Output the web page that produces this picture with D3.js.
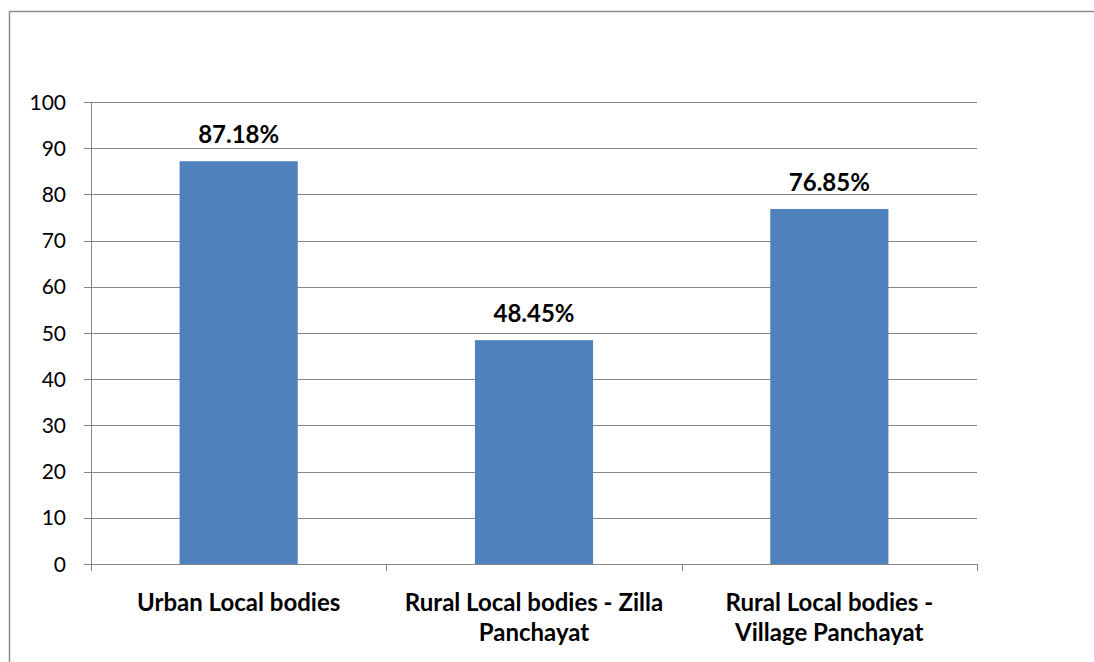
<!DOCTYPE html>
<html>
<head>
<meta charset="utf-8">
<script src="https://cdn.jsdelivr.net/npm/d3@7"></script>
<style>
  body { margin: 0; background: #fff; }
  svg { display: block; }
</style>
</head>
<body>
<svg id="chart" width="1094" height="662"></svg>
<script>
"use strict";

// Data
var categories = [
    ["Urban Local bodies"],
    ["Rural Local bodies - Zilla", "Panchayat"],
    ["Rural Local bodies -", "Village Panchayat"]
];
var values = [87.18, 48.45, 76.85];
var valueLabels = ["87.18%", "48.45%", "76.85%"];
var yTicks = [0, 10, 20, 30, 40, 50, 60, 70, 80, 90, 100];

var svg = d3.select("#chart");
var font = "Lato, 'Liberation Sans', sans-serif";
var gridColor = "#868686";

// Outer frame (right / bottom edges run off the picture)
svg.append("rect")
    .attr("x", 9.5)
    .attr("y", 11.5)
    .attr("width", 1200)
    .attr("height", 1000)
    .attr("fill", "none")
    .attr("stroke", "#8c8c8c")
    .attr("stroke-width", 1.5);

var plot = {left: 91, right: 977, top: 102, bottom: 564};

var x = d3.scaleBand()
    .domain(d3.range(values.length))
    .range([plot.left, plot.right])
    .paddingInner(0.6)
    .paddingOuter(0.3);

var xGroup = d3.scaleBand()
    .domain(d3.range(values.length))
    .range([plot.left, plot.right]);

var y = d3.scaleLinear()
    .domain([0, 100])
    .range([plot.bottom, plot.top]);

// Gridlines
svg.append("g")
    .selectAll("line")
    .data(yTicks)
    .join("line")
    .attr("x1", plot.left - 7)
    .attr("x2", plot.right)
    .attr("y1", function(d) { return Math.round(y(d)) + 0.5; })
    .attr("y2", function(d) { return Math.round(y(d)) + 0.5; })
    .attr("stroke", gridColor)
    .attr("stroke-width", 1);

// Y axis labels
svg.append("g")
    .selectAll("text")
    .data(yTicks)
    .join("text")
    .attr("x", 66)
    .attr("y", function(d) { return y(d); })
    .attr("dy", "0.36em")
    .attr("text-anchor", "end")
    .attr("font-family", font)
    .attr("font-size", 21)
    .attr("fill", "#000")
    .text(function(d) { return d; });

// Y axis line
svg.append("line")
    .attr("x1", plot.left + 0.5)
    .attr("x2", plot.left + 0.5)
    .attr("y1", plot.top)
    .attr("y2", plot.bottom)
    .attr("stroke", gridColor);

// Category tick marks
var catTicks = [plot.left].concat(xGroup.domain().map(function(i) { return xGroup(i) + xGroup.bandwidth(); }));
svg.append("g")
    .selectAll("line")
    .data(catTicks)
    .join("line")
    .attr("x1", function(d) { return Math.round(d) + 0.5; })
    .attr("x2", function(d) { return Math.round(d) + 0.5; })
    .attr("y1", plot.bottom)
    .attr("y2", plot.bottom + 7)
    .attr("stroke", gridColor);

// Bars
svg.append("g")
    .selectAll("rect")
    .data(values)
    .join("rect")
    .attr("x", function(d, i) { return x(i); })
    .attr("y", function(d) { return y(d); })
    .attr("width", x.bandwidth())
    .attr("height", function(d) { return plot.bottom - y(d); })
    .attr("fill", "#4f81bd");

// Value labels
svg.append("g")
    .selectAll("text")
    .data(values)
    .join("text")
    .attr("x", function(d, i) { return x(i) + x.bandwidth() / 2; })
    .attr("y", function(d) { return y(d) - 18; })
    .attr("text-anchor", "middle")
    .attr("font-family", font)
    .attr("font-weight", "bold")
    .attr("font-size", 24)
    .attr("fill", "#000")
    .text(function(d, i) { return valueLabels[i]; });

// Category labels
var catText = svg.append("g")
    .selectAll("text")
    .data(categories)
    .join("text")
    .attr("x", function(d, i) { return xGroup(i) + xGroup.bandwidth() / 2; })
    .attr("y", 611)
    .attr("text-anchor", "middle")
    .attr("font-family", font)
    .attr("font-weight", "bold")
    .attr("font-size", 24)
    .attr("fill", "#000");

catText.selectAll("tspan")
    .data(function(d) { return d; })
    .join("tspan")
    .attr("x", function() { return d3.select(this.parentNode).attr("x"); })
    .attr("dy", function(d, i) { return i === 0 ? 0 : 30; })
    .text(function(d) { return d; });
</script>
</body>
</html>
